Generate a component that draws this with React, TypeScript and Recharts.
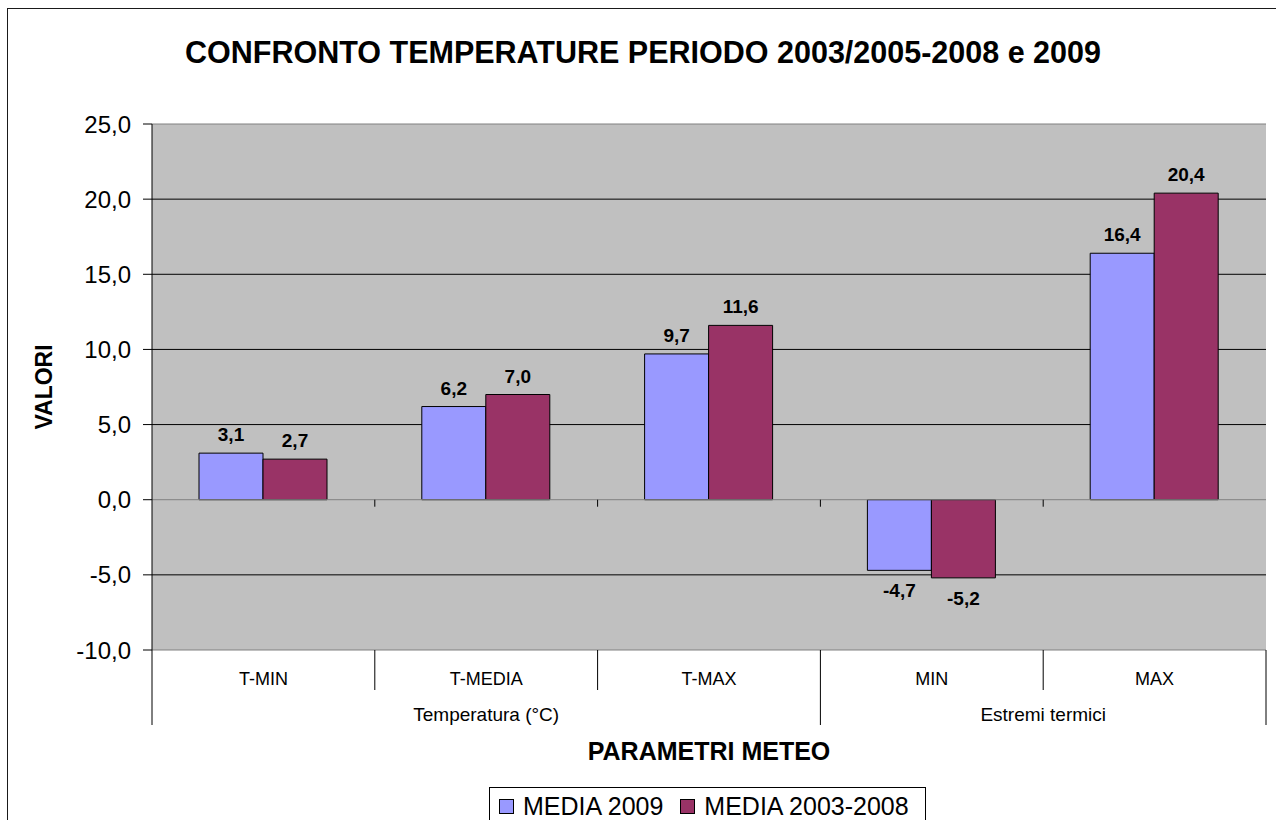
import React from "react";
import {
  Bar,
  BarChart,
  CartesianGrid,
  LabelList,
  ReferenceLine,
  XAxis,
  YAxis
} from "recharts";

const categories = ["T-MIN", "T-MEDIA", "T-MAX", "MIN", "MAX"];
const media2009 = [3.1, 6.2, 9.7, -4.7, 16.4];
const media20032008 = [2.7, 7.0, 11.6, -5.2, 20.4];
const groupNames = ["Temperatura (°C)", "Estremi termici"];
const groupSizes = [3, 2];
const yTicks = [-10, -5, 0, 5, 10, 15, 20, 25];

const seriesNames = ["MEDIA 2009", "MEDIA 2003-2008"];
const seriesColors = ["#9999FF", "#993366"];

const FONT = "'Liberation Sans', Arial, sans-serif";
const CHART_W = 1276;
const CHART_H = 820;
const MARGIN = { top: 124, right: 10, bottom: 95, left: 72 };
const Y_AXIS_W = 80;
const X_AXIS_H = 75;
const Y_MIN = yTicks[0];
const Y_MAX = yTicks[yTicks.length - 1];

const plotLeft = MARGIN.left + Y_AXIS_W;
const plotRight = CHART_W - MARGIN.right;
const plotBottom = CHART_H - MARGIN.bottom - X_AXIS_H;
const zeroY = MARGIN.top + ((Y_MAX - 0) / (Y_MAX - Y_MIN)) * (plotBottom - MARGIN.top);

const data = categories.map((name, i) => ({
  name,
  a: media2009[i],
  b: media20032008[i]
}));

// first category index of each group
const groupStarts = groupSizes.map((_, g) => groupSizes.slice(0, g).reduce((s, n) => s + n, 0));

const fmt = (v: number) => v.toFixed(1).replace(".", ",");

function CategoryTick(props: any) {
  const { x, y, payload } = props;
  const i: number = payload.index ?? props.index;
  const half: number = payload.offset || (plotRight - plotLeft) / categories.length / 2;
  const g = groupStarts.indexOf(i);
  const left = x - half;
  return (
    <g>
      <line x1={left} x2={left} y1={y} y2={y + (g >= 0 ? 75 : 40)} stroke="#000" />
      {i > 0 ? <line x1={left} x2={left} y1={zeroY} y2={zeroY + 7} stroke="#000" /> : null}
      {i === categories.length - 1 ? (
        <line x1={x + half} x2={x + half} y1={y} y2={y + 75} stroke="#000" />
      ) : null}
      <text x={x} y={y + 35} textAnchor="middle" fontSize={18} fontFamily={FONT} fill="#000">
        {payload.value}
      </text>
      {g >= 0 ? (
        <text
          x={left + groupSizes[g] * half}
          y={y + 71}
          textAnchor="middle"
          fontSize={19}
          fontFamily={FONT}
          fill="#000"
        >
          {groupNames[g]}
        </text>
      ) : null}
    </g>
  );
}

function BarValue(props: any) {
  const { x, y, width, height, value } = props;
  const top = Math.min(y, y + height);
  const bottom = Math.max(y, y + height);
  return (
    <text
      x={x + width / 2}
      y={value >= 0 ? top - 12 : bottom + 27}
      textAnchor="middle"
      fontSize={19}
      fontWeight="bold"
      fontFamily={FONT}
      fill="#000"
    >
      {fmt(value)}
    </text>
  );
}

export default function App() {
  return (
    <div style={{ position: "absolute", left: 0, top: 0, width: CHART_W, height: CHART_H, overflow: "hidden", background: "#fff" }}>
      <div
        style={{
          position: "absolute",
          left: 7,
          top: 8,
          width: 1290,
          height: 840,
          border: "1px solid #1a1a1a"
        }}
      />
      <div
        style={{
          position: "absolute",
          left: 0,
          top: 37,
          width: 1286,
          textAlign: "center",
          fontFamily: FONT,
          fontWeight: "bold",
          fontSize: 30.5,
          lineHeight: "30px",
          color: "#000",
          whiteSpace: "nowrap"
        }}
      >
        CONFRONTO TEMPERATURE PERIODO 2003/2005-2008 e 2009
      </div>
      <div style={{ position: "absolute", left: 0, top: 0 }}>
        <BarChart
          width={CHART_W}
          height={CHART_H}
          data={data}
          margin={MARGIN}
          barCategoryGap={47}
          barGap={0}
        >
          <CartesianGrid
            vertical={false}
            horizontalValues={yTicks.filter((t) => t !== 0 && t !== Y_MIN && t !== Y_MAX)}
            stroke="#000"
            fill="#C0C0C0"
            fillOpacity={1}
          />
          <XAxis
            dataKey="name"
            height={X_AXIS_H}
            interval={0}
            axisLine={false}
            tickLine={false}
            tickSize={0}
            tickMargin={0}
            tick={<CategoryTick />}
            label={{
              content: ({ viewBox }: any) => (
                <text
                  x={viewBox.x + viewBox.width / 2}
                  y={viewBox.y + 110}
                  textAnchor="middle"
                  fontSize={25}
                  fontWeight="bold"
                  fontFamily={FONT}
                  fill="#000"
                >
                  PARAMETRI METEO
                </text>
              )
            }}
          />
          <YAxis
            width={Y_AXIS_W}
            domain={[Y_MIN, Y_MAX]}
            ticks={yTicks}
            interval={0}
            tickFormatter={fmt}
            tickSize={9}
            tickMargin={12}
            tickLine={{ stroke: "#000" }}
            axisLine={{ stroke: "#000" }}
            tick={{ fill: "#000", fontSize: 24, fontFamily: FONT }}
            label={{
              content: ({ viewBox }: any) => {
                const cx = viewBox.x - 20;
                const cy = viewBox.y + viewBox.height / 2;
                return (
                  <text
                    x={cx}
                    y={cy}
                    transform={`rotate(-90, ${cx}, ${cy})`}
                    textAnchor="middle"
                    fontSize={23}
                    fontWeight="bold"
                    fontFamily={FONT}
                    fill="#000"
                  >
                    VALORI
                  </text>
                );
              }
            }}
          />
          <YAxis
            yAxisId="right"
            orientation="right"
            width={0}
            domain={[Y_MIN, Y_MAX]}
            tick={false}
            tickLine={false}
            axisLine={{ stroke: "#808080" }}
          />
          <ReferenceLine y={Y_MAX} stroke="#808080" />
          <ReferenceLine y={Y_MIN} stroke="#808080" />
          <ReferenceLine y={0} stroke="#808080" />
          <Bar dataKey="a" name={seriesNames[0]} fill={seriesColors[0]} stroke="#000" strokeWidth={1} isAnimationActive={false}>
            <LabelList dataKey="a" content={<BarValue />} />
          </Bar>
          <Bar dataKey="b" name={seriesNames[1]} fill={seriesColors[1]} stroke="#000" strokeWidth={1} isAnimationActive={false}>
            <LabelList dataKey="b" content={<BarValue />} />
          </Bar>
        </BarChart>
      </div>
      <div
        style={{
          position: "absolute",
          left: 489,
          top: 787,
          width: 435,
          height: 60,
          border: "1px solid #000",
          background: "#fff",
          boxSizing: "content-box",
          fontFamily: FONT,
          fontSize: 25,
          lineHeight: "25px",
          color: "#000",
          whiteSpace: "nowrap"
        }}
      >
        <div style={{ display: "flex", alignItems: "center", paddingTop: 6, paddingLeft: 9 }}>
          {seriesNames.map((name, i) => (
            <div key={name} style={{ display: "flex", alignItems: "center", marginRight: 17, flexShrink: 0 }}>
              <span
                style={{
                  display: "inline-block",
                  width: 13,
                  height: 13,
                  background: seriesColors[i],
                  border: "1px solid #000",
                  marginRight: 9,
                  flexShrink: 0
                }}
              />
              <span>{name}</span>
            </div>
          ))}
        </div>
      </div>
    </div>
  );
}
